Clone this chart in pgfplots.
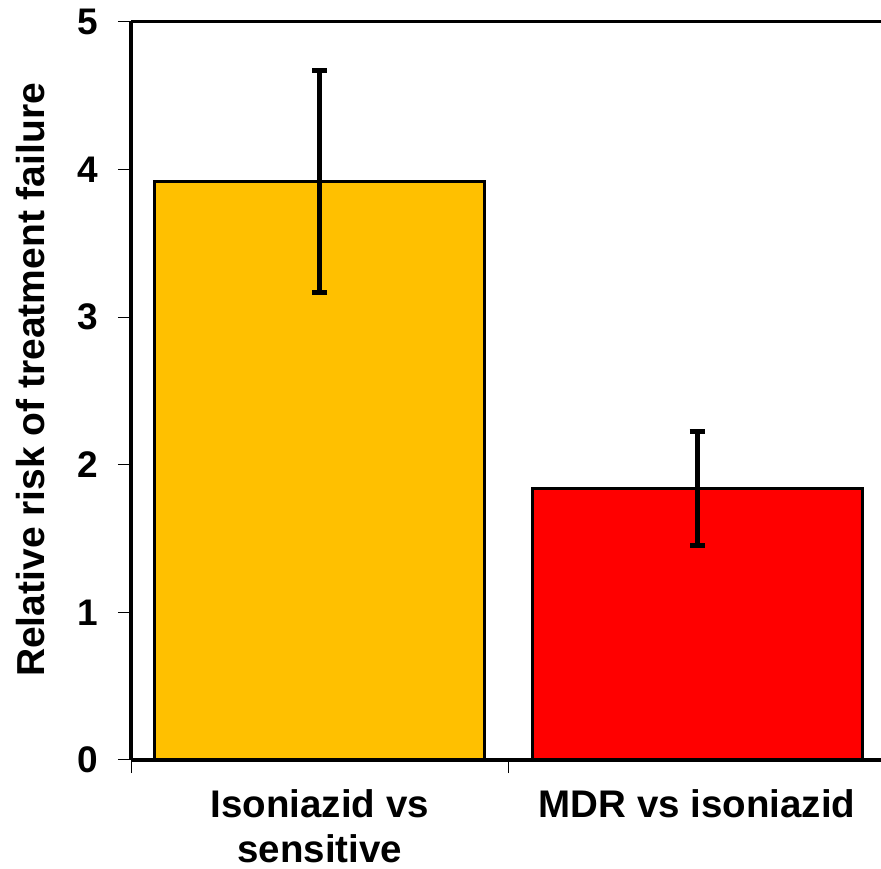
\documentclass[border=0pt]{standalone}
\usepackage{pgfplots}
\pgfplotsset{compat=1.18}
\usepackage{fontspec}
\setmainfont{Liberation Sans}
\definecolor{amber}{HTML}{FFC000}
\definecolor{brightred}{HTML}{FF0000}
\begin{document}
\begin{tikzpicture}
\useasboundingbox (0,0) rectangle (881bp,869bp);
\begin{axis}[
  at={(131bp,109bp)}, anchor=south west,
  scale only axis, width=750bp, height=738bp,
  xmin=-0.5, xmax=1.487, ymin=0, ymax=5,
  axis x line=box, axis y line=left,
  axis line style={line width=3bp, -},
  xtick pos=left, ytick pos=left,
  tick align=outside, major tick length=13bp,
  tick style={line width=1bp, black},
  ytick={0,1,2,3,4,5},
  xtick={-0.5,0.5,1.5}, xticklabels={},
  extra x ticks={0,1},
  extra x tick labels={Isoniazid vs\\sensitive, MDR vs isoniazid},
  extra x tick style={major tick length=0pt,
    xticklabel style={align=center, inner sep=0pt, anchor=north, yshift=-29bp,
      font=\fontsize{38.5bp}{45bp}\selectfont\bfseries}},
  /pgf/number format/assume math mode=true,
  yticklabel style={font=\fontsize{37bp}{40bp}\selectfont\bfseries,
    inner sep=0pt, xshift=-20bp},
  ylabel={Relative risk of treatment failure},
  ylabel style={at={(axis description cs:0,0.515)}, anchor=south,
    yshift=86bp, inner sep=0pt,
    font=\fontsize{39bp}{44bp}\selectfont\bfseries},
  bar width=0.875,
  clip=false,
]
\addplot[ybar, fill=amber, draw=black, line width=3bp,
  error bars/.cd, y dir=both, y explicit, error mark=-,
  error bar style={line width=5bp, black},
  error mark options={rotate=90, line width=5bp, mark size=7.5bp, black}]
  coordinates {(0,3.92) +- (0,0.75)};
\addplot[ybar, fill=brightred, draw=black, line width=3bp,
  error bars/.cd, y dir=both, y explicit, error mark=-,
  error bar style={line width=5bp, black},
  error mark options={rotate=90, line width=5bp, mark size=7.5bp, black}]
  coordinates {(1,1.84) +- (0,0.385)};
\end{axis}
\end{tikzpicture}
\end{document}
